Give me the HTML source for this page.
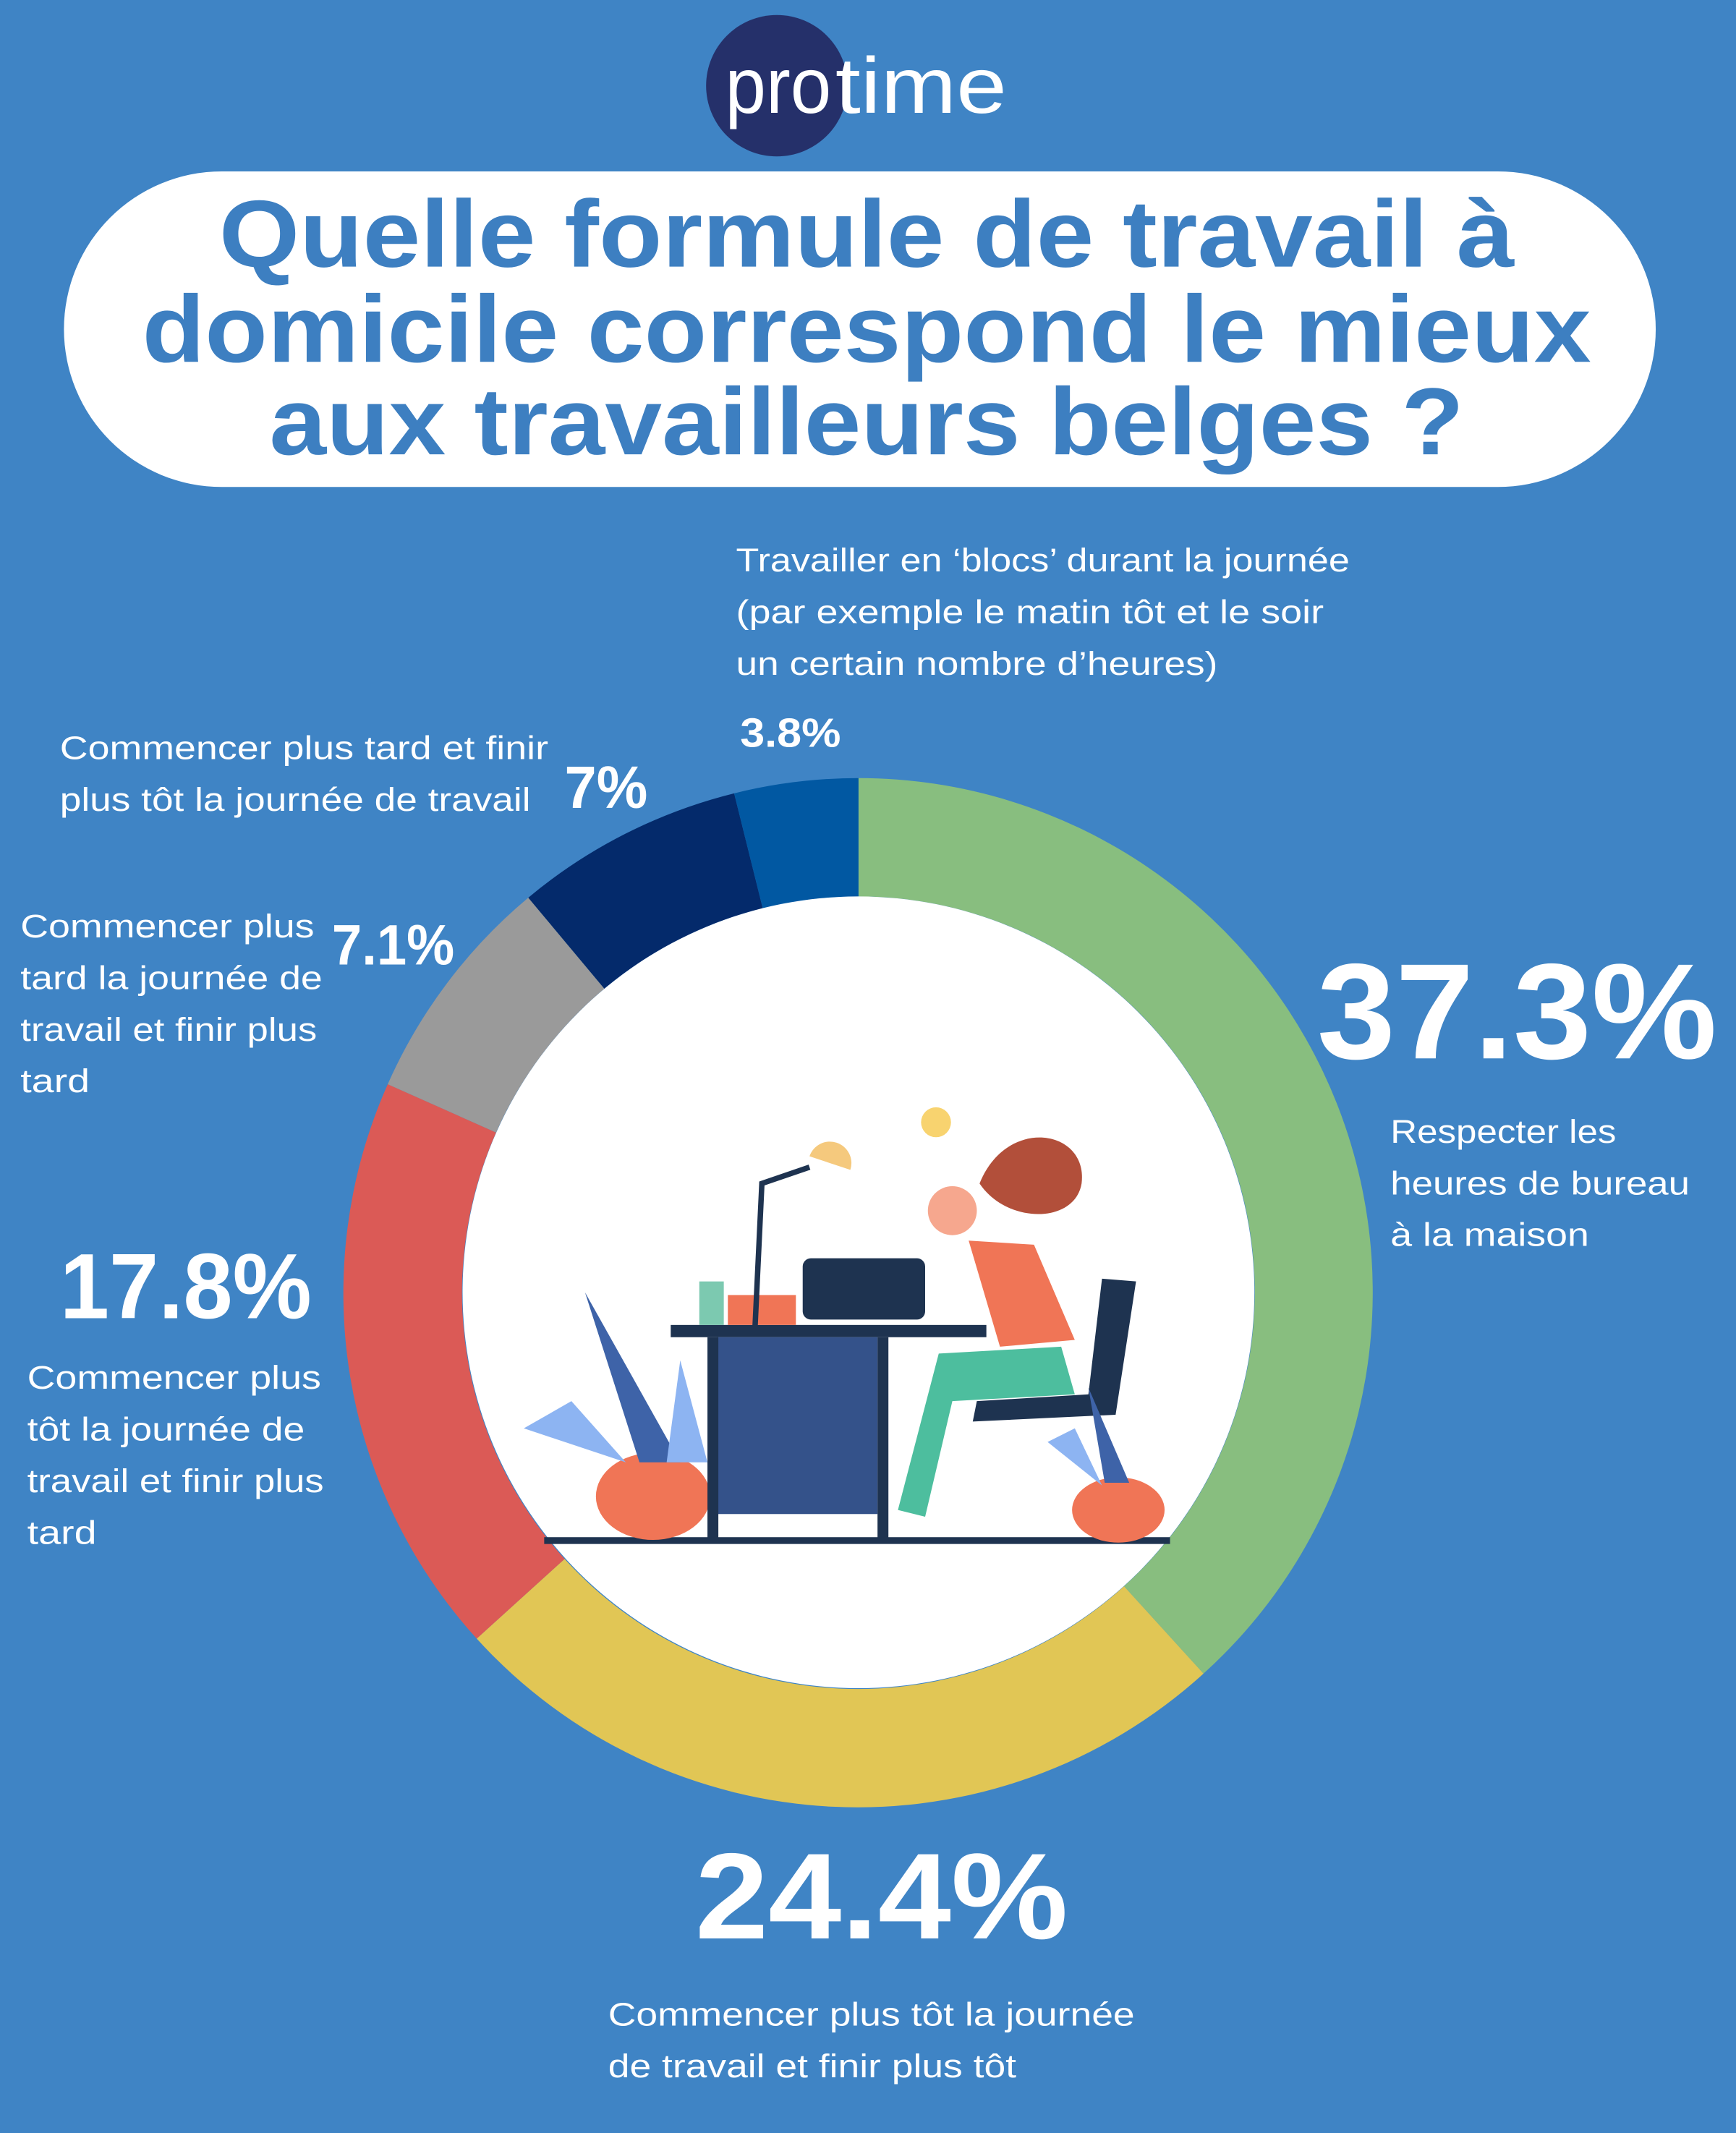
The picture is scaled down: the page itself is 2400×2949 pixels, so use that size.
<!DOCTYPE html>
<html><head><meta charset="utf-8"><style>
html,body{margin:0;padding:0;background:#3F84C5;}
svg{display:block;}
text{font-family:"Liberation Sans",sans-serif;}
</style></head><body>
<svg width="2400" height="2949" viewBox="0 0 1276 1568" preserveAspectRatio="none" xmlns="http://www.w3.org/2000/svg">
<rect width="1276" height="1568" fill="#3F84C5"/>
<!-- logo -->
<circle cx="571" cy="63" r="52" fill="#25306A"/>
<text x="533" y="83" font-size="58" fill="#fff" textLength="78" lengthAdjust="spacingAndGlyphs">pro</text>
<text x="614" y="83" font-size="58" fill="#fff" textLength="126" lengthAdjust="spacingAndGlyphs">time</text>
<!-- title pill -->
<rect x="47" y="126" width="1170" height="232" rx="116" fill="#fff"/>
<g font-weight="bold" font-size="70" fill="#3D7FC1" text-anchor="middle">
<text x="637" y="196" textLength="952" lengthAdjust="spacingAndGlyphs">Quelle formule de travail à</text>
<text x="637" y="266" textLength="1065" lengthAdjust="spacingAndGlyphs">domicile correspond le mieux</text>
<text x="637" y="334" textLength="878" lengthAdjust="spacingAndGlyphs">aux travailleurs belges ?</text>
</g>
<!-- donut -->
<g transform="translate(631,950)">
<path id="seg" d="" />
</g>
<g id="donut"></g>
<circle cx="631" cy="950" r="378" fill="none"/>
<path d="M631,572 A378,378 0 0 1 884.6,1230.3 L826.2,1166.1 A291,291 0 0 0 631,659 Z" fill="#88BE7F"/>
<path d="M884.6,1230.3 A378,378 0 0 1 350.4,1204.6 L415,1146 A291,291 0 0 0 826.2,1166.1 Z" fill="#E1C655"/>
<path d="M350.4,1204.6 A378,378 0 0 1 285,797 L364.6,832.5 A291,291 0 0 0 415,1146 Z" fill="#DB5A56"/>
<path d="M285,797 A378,378 0 0 1 388.3,659.9 L444.2,726.8 A291,291 0 0 0 364.6,832.5 Z" fill="#9A9A9A"/>
<path d="M388.3,659.9 A378,378 0 0 1 539.6,583.2 L560.6,667.6 A291,291 0 0 0 444.2,726.8 Z" fill="#042A6B"/>
<path d="M539.6,583.2 A378,378 0 0 1 631,572 L631,659 A291,291 0 0 0 560.6,667.6 Z" fill="#0158A2"/>
<circle cx="631" cy="950" r="291" fill="#fff"/>
<!-- illustration -->
<rect x="400" y="1130" width="460" height="5" fill="#1E3350"/>
<ellipse cx="480" cy="1100" rx="42" ry="32" fill="#F07556"/>
<path d="M430,950 L470,1075 L500,1075 Z" fill="#3E63A8"/>
<path d="M385,1050 L460,1075 L420,1030 Z" fill="#8DB4F2"/>
<path d="M500,1000 L490,1075 L520,1075 Z" fill="#8DB4F2"/>
<rect x="493" y="974" width="232" height="9" fill="#1E3350"/>
<rect x="527" y="983" width="118" height="130" fill="#34528A"/>
<rect x="520" y="983" width="8" height="148" fill="#1E3350"/>
<rect x="645" y="983" width="8" height="148" fill="#1E3350"/>
<rect x="535" y="952" width="50" height="22" fill="#F07556"/>
<rect x="514" y="942" width="18" height="32" fill="#7CC9B0"/>
<rect x="590" y="925" width="90" height="45" rx="6" fill="#1E3350"/>
<path d="M555,975 L560,870 L595,858" stroke="#1E3350" stroke-width="4" fill="none"/>
<path d="M595,850 A14,14 0 0 1 625,860 Z" fill="#F5C97D"/>
<circle cx="688" cy="825" r="11" fill="#F8D36F"/>
<path d="M720,870 C740,820 800,830 795,870 C790,900 740,900 720,870 Z" fill="#B24F3A"/>
<circle cx="700" cy="890" r="18" fill="#F6A78E"/>
<path d="M712,912 L760,915 L790,985 L735,990 Z" fill="#F07556"/>
<path d="M690,995 L780,990 L790,1025 L700,1030 L680,1115 L660,1110 Z" fill="#4DBE9E"/>
<path d="M810,940 L835,942 L820,1040 L715,1045 L718,1030 L800,1025 Z" fill="#1E3350"/>
<ellipse cx="822" cy="1110" rx="34" ry="24" fill="#F07556"/>
<path d="M800,1020 L812,1090 L830,1090 Z" fill="#3E63A8"/>
<path d="M770,1060 L810,1092 L790,1050 Z" fill="#8DB4F2"/>
<!-- labels -->
<g fill="#fff" font-size="24">
<text x="541" y="420" textLength="451" lengthAdjust="spacingAndGlyphs">Travailler en ‘blocs’ durant la journée</text>
<text x="541" y="458" textLength="432" lengthAdjust="spacingAndGlyphs">(par exemple le matin tôt et le soir</text>
<text x="541" y="496" textLength="354" lengthAdjust="spacingAndGlyphs">un certain nombre d’heures)</text>
<text x="44" y="558" textLength="359" lengthAdjust="spacingAndGlyphs">Commencer plus tard et finir</text>
<text x="44" y="596" textLength="346" lengthAdjust="spacingAndGlyphs">plus tôt la journée de travail</text>
<text x="15" y="689" textLength="216" lengthAdjust="spacingAndGlyphs">Commencer plus</text>
<text x="15" y="727" textLength="222" lengthAdjust="spacingAndGlyphs">tard la journée de</text>
<text x="15" y="765" textLength="218" lengthAdjust="spacingAndGlyphs">travail et finir plus</text>
<text x="15" y="803" textLength="51" lengthAdjust="spacingAndGlyphs">tard</text>
<text x="20" y="1021" textLength="216" lengthAdjust="spacingAndGlyphs">Commencer plus</text>
<text x="20" y="1059" textLength="204" lengthAdjust="spacingAndGlyphs">tôt la journée de</text>
<text x="20" y="1097" textLength="218" lengthAdjust="spacingAndGlyphs">travail et finir plus</text>
<text x="20" y="1135" textLength="51" lengthAdjust="spacingAndGlyphs">tard</text>
<text x="1022" y="840" textLength="166" lengthAdjust="spacingAndGlyphs">Respecter les</text>
<text x="1022" y="878" textLength="220" lengthAdjust="spacingAndGlyphs">heures de bureau</text>
<text x="1022" y="916" textLength="146" lengthAdjust="spacingAndGlyphs">à la maison</text>
<text x="447" y="1489" textLength="387" lengthAdjust="spacingAndGlyphs">Commencer plus tôt la journée</text>
<text x="447" y="1527" textLength="300" lengthAdjust="spacingAndGlyphs">de travail et finir plus tôt</text>
</g>
<g fill="#fff" font-weight="bold">
<text x="544" y="549" font-size="30" textLength="74" lengthAdjust="spacingAndGlyphs">3.8%</text>
<text x="415" y="594" font-size="44" textLength="61" lengthAdjust="spacingAndGlyphs">7%</text>
<text x="244" y="709" font-size="42" textLength="90" lengthAdjust="spacingAndGlyphs">7.1%</text>
<text x="44" y="969" font-size="68" textLength="185" lengthAdjust="spacingAndGlyphs">17.8%</text>
<text x="968" y="778" font-size="100" textLength="294" lengthAdjust="spacingAndGlyphs">37.3%</text>
<text x="511" y="1425" font-size="90" textLength="274" lengthAdjust="spacingAndGlyphs">24.4%</text>
</g>
</svg>
</body></html>
